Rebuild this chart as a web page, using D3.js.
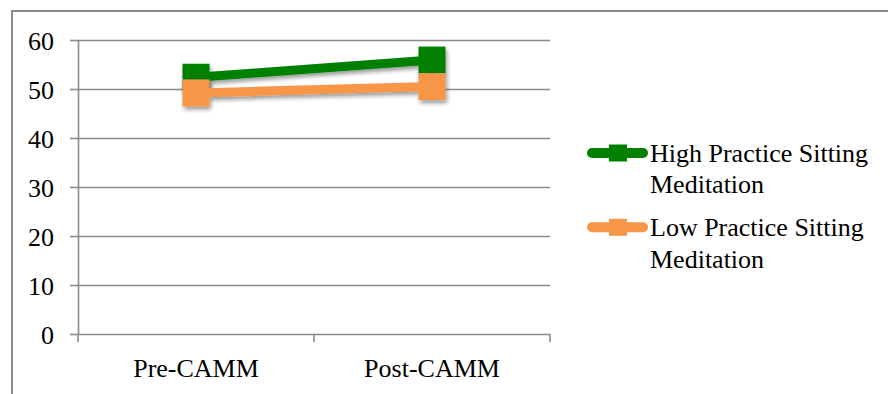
<!DOCTYPE html>
<html>
<head>
<meta charset="utf-8">
<script src="https://cdn.jsdelivr.net/npm/d3@7"></script>
<style>
  html, body { margin: 0; padding: 0; background: #fff; }
  svg { display: block; }
</style>
</head>
<body>
<svg id="chart" width="888" height="394"></svg>
<script>
// Sitting meditation scores before and after CAMM
const categories = ["Pre-CAMM", "Post-CAMM"];
const highPractice = [52.4, 55.9];
const lowPractice = [49.2, 50.5];
const seriesNames = ["High Practice Sitting Meditation", "Low Practice Sitting Meditation"];
const legendLines = [["High Practice Sitting", "Meditation"], ["Low Practice Sitting", "Meditation"]];
const seriesColors = ["#008000", "#F79646"];
const yTicks = [0, 10, 20, 30, 40, 50, 60];

const FONT = "Liberation Serif";
const FONT_SIZE = 26;

const svg = d3.select("#chart");
const axisColor = "#8a8a8a";

const plot = { left: 78, right: 550, top: 40, bottom: 334 };

const x = d3.scaleBand().domain(categories).range([plot.left, plot.right]);
const y = d3.scaleLinear().domain([0, 60]).range([plot.bottom, plot.top]);
const cx = c => x(c) + x.bandwidth() / 2;

// drop shadow used by the series
const defs = svg.append("defs");
const f = defs.append("filter").attr("id", "shadow")
  .attr("x", "-30%").attr("y", "-30%").attr("width", "160%").attr("height", "160%");
f.append("feDropShadow").attr("dx", 1.5).attr("dy", 3).attr("stdDeviation", 2)
  .attr("flood-color", "#000").attr("flood-opacity", 0.4);

// outer frame
svg.append("path")
  .attr("d", "M12,394 V11 H888")
  .attr("fill", "none").attr("stroke", axisColor).attr("stroke-width", 2);

// horizontal gridlines
const grid = svg.append("g").attr("transform", `translate(${plot.left},0)`)
  .call(d3.axisLeft(y).tickValues(yTicks.filter(v => v > 0)).tickSize(-(plot.right - plot.left)).tickFormat(""));
grid.select(".domain").remove();
grid.selectAll(".tick line").attr("stroke", axisColor).attr("stroke-width", 1.6);

// y axis with labels
const yAxis = svg.append("g").attr("transform", `translate(${plot.left},0)`)
  .attr("font-family", FONT).attr("font-size", FONT_SIZE)
  .call(d3.axisLeft(y).tickValues(yTicks).tickSize(8).tickPadding(16).tickSizeOuter(0));
yAxis.attr("font-family", FONT).attr("font-size", FONT_SIZE);
yAxis.select(".domain").attr("stroke", axisColor).attr("stroke-width", 1.6);
yAxis.selectAll(".tick line").attr("stroke", axisColor).attr("stroke-width", 1.6);
yAxis.selectAll(".tick text").attr("fill", "#000").attr("dy", "0.37em");

// x axis: line, boundary ticks, centred labels
const xAxis = svg.append("g").attr("transform", `translate(0,${plot.bottom})`)
  .call(d3.axisBottom(x).tickSize(0).tickPadding(24.5).tickSizeOuter(0));
xAxis.attr("font-family", FONT).attr("font-size", FONT_SIZE);
xAxis.select(".domain").attr("stroke", axisColor).attr("stroke-width", 1.6);
xAxis.selectAll(".tick text").attr("fill", "#000");
const bounds = categories.map(c => x(c)).concat([plot.right]);
svg.append("g").selectAll("line").data(bounds).join("line")
  .attr("x1", d => d).attr("x2", d => d)
  .attr("y1", plot.bottom).attr("y2", plot.bottom + 8)
  .attr("stroke", axisColor).attr("stroke-width", 1.6);

// series
const seriesData = [highPractice, lowPractice];
const line = d3.line().x((d, i) => cx(categories[i])).y(d => y(d));
const msize = 27;
seriesData.forEach((vals, s) => {
  const g = svg.append("g").attr("filter", "url(#shadow)");
  g.append("path").datum(vals).attr("d", line)
    .attr("fill", "none").attr("stroke", seriesColors[s]).attr("stroke-width", 9)
    .attr("stroke-linejoin", "round");
  g.selectAll("rect").data(vals).join("rect")
    .attr("x", (d, i) => cx(categories[i]) - msize / 2)
    .attr("y", d => y(d) - msize / 2)
    .attr("width", msize).attr("height", msize)
    .attr("fill", seriesColors[s]);
});

// legend
const legend = svg.append("g").attr("font-family", FONT).attr("font-size", FONT_SIZE);
seriesNames.forEach((name, s) => {
  const ly = 153 + s * 74.3;
  const item = legend.append("g").attr("aria-label", name);
  item.append("line").attr("x1", 592).attr("x2", 643).attr("y1", ly).attr("y2", ly)
    .attr("stroke", seriesColors[s]).attr("stroke-width", 10).attr("stroke-linecap", "round");
  item.append("rect").attr("x", 609).attr("y", ly - 8.5).attr("width", 18).attr("height", 17)
    .attr("fill", seriesColors[s]);
  legendLines[s].forEach((t, k) => {
    item.append("text").attr("x", 650).attr("y", ly + 8.7 + k * 31.6)
      .attr("fill", "#000").text(t);
  });
});
</script>
</body>
</html>
